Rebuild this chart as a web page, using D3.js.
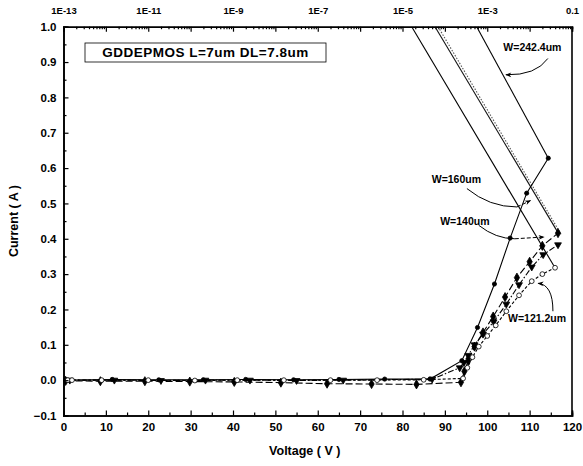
<!DOCTYPE html>
<html><head><meta charset="utf-8">
<script src="https://cdn.jsdelivr.net/npm/d3@7"></script>
<style>
body{margin:0;background:#fff;}
svg{font-family:"Liberation Sans",Arial,sans-serif;font-weight:bold;}
</style></head>
<body><svg id="c" width="583" height="466"></svg>
<script>
// ---- data ----
const xTicks = [0,10,20,30,40,50,60,70,80,90,100,110,120];
const yTicks = [-0.1,0.0,0.1,0.2,0.3,0.4,0.5,0.6,0.7,0.8,0.9,1.0];
const topTicks = [1e-13,1e-11,1e-9,1e-7,1e-5,1e-3,0.1];
const topTickLabels = ["1E-13","1E-11","1E-9","1E-7","1E-5","1E-3","0.1"];

// linear I-V curves (bottom axis: Voltage, left axis: Current)
const w242V = [0.3,1,11.5,22.5,33,43,54.3,65,75.8,86.5,94,97.7,101.7,105.4,109.3,114.4];
const w242I = [0,0,0.002,0.001,0.001,0.002,0.001,0.002,0.003,0.003,0.055,0.149,0.272,0.402,0.529,0.628];
const w160V = [0.5,8.7,19.2,29.8,40.3,51.3,62.2,72.7,83.3,93.8,94.6,95.5,97,99,101.4,104.2,107,110,113,116.7];
const w160I = [-0.002,-0.003,-0.003,-0.004,-0.005,-0.007,-0.01,-0.011,-0.012,-0.006,0.025,0.055,0.095,0.135,0.18,0.235,0.29,0.335,0.38,0.416];
const w140V = [1.5,12,23,33.5,44,55,66,87,93.5,94.5,95.5,97,99,101.5,104.5,107.5,110.5,113.2,116.7];
const w140I = [0,0,-0.001,0,0,-0.001,0,0.003,0.035,0.05,0.07,0.1,0.13,0.165,0.215,0.27,0.32,0.355,0.383];
const w121V = [1,2,9,20,31,41,52,63,74,85,94.3,95.3,96.5,98,100,102,104.5,107.5,110.5,113,116];
const w121I = [0,0,0,0,-0.001,0,0,0,0,0.001,0.005,0.035,0.065,0.095,0.125,0.155,0.195,0.24,0.28,0.3,0.318];

// log-scale lines (top axis: current, log; left axis)
const logStartX = [1.65e-5, 5.85e-5, 6.9e-5, 5.64e-4];
const logStartI = [1.0, 1.0, 1.0, 1.0];
const logEndX = [0.0397, 0.0475, 0.055, 0.0276];
const logEndI = [0.318, 0.416, 0.413, 0.628];

// annotations
const annLabels = ["W=242.4um","W=160um","W=140um","W=121.2um"];
const annLabelV = [103.8, 86.9, 88.9, 104.9];
const annLabelI = [0.94, 0.566, 0.447, 0.172];

// ---- drawing ----
const svg = d3.select("#c");
const L=63.5, R=572, T=26.7, B=415.5;
const x = d3.scaleLinear().domain([0,120]).range([L,R]);
const y = d3.scaleLinear().domain([-0.1,1.0]).range([B,T]);
const xt = d3.scaleLog().domain([1e-13,0.1]).range([L,R]);

const defs = svg.append("defs");
defs.append("clipPath").attr("id","clip").append("rect")
  .attr("x",L).attr("y",T).attr("width",R-L).attr("height",B-T);
defs.append("marker").attr("id","ah").attr("viewBox","0 0 10 10")
  .attr("refX",9).attr("refY",5).attr("markerWidth",7).attr("markerHeight",6)
  .attr("orient","auto").append("path").attr("d","M0,1 L10,5 L0,9 L3,5 Z").attr("fill","#000");

const g = svg.append("g").attr("clip-path","url(#clip)");
const line = d3.line().x(d=>x(d[0])).y(d=>y(d[1]));
const lineT = d3.line().x(d=>xt(d[0])).y(d=>y(d[1]));

// log lines
const logStyles = [
  {dash:null, w:1.1, c:"#000"},
  {dash:null, w:1.1, c:"#111"},
  {dash:"1.5,1.5", w:1.1, c:"#555"},
  {dash:null, w:1.1, c:"#000"}
];
logStartX.forEach((sx,i)=>{
  g.append("path").datum([[sx,logStartI[i]],[logEndX[i],logEndI[i]]])
   .attr("d",lineT).attr("fill","none").attr("stroke",logStyles[i].c)
   .attr("stroke-width",logStyles[i].w).attr("stroke-dasharray",logStyles[i].dash);
});

const series = [
  {V:w242V,I:w242I,dash:null,sym:d3.symbolCircle,size:14,fill:"#000"},
  {V:w160V,I:w160I,dash:"7,3",sym:d3.symbolDiamond,size:24,fill:"#000"},
  {V:w140V,I:w140I,dash:"6,2,1.5,2",sym:d3.symbolTriangle,size:20,fill:"#000",rot:180},
  {V:w121V,I:w121I,dash:"3,2",sym:d3.symbolCircle,size:18,fill:"#fff"}
];
series.forEach(s=>{
  const pts = s.V.map((v,i)=>[v,s.I[i]]);
  g.append("path").datum(pts).attr("d",line).attr("fill","none")
   .attr("stroke","#000").attr("stroke-width",1.1).attr("stroke-dasharray",s.dash);
  g.selectAll(null).data(pts).enter().append("path")
   .attr("d",d3.symbol().type(s.sym).size(s.size))
   .attr("transform",d=>`translate(${x(d[0])},${y(d[1])})`+(s.rot?` rotate(${s.rot})`:""))
   .attr("fill",s.fill).attr("stroke","#000").attr("stroke-width",0.8);
});

// annotations
annLabels.forEach((t,i)=>{
  svg.append("text").attr("x",x(annLabelV[i])).attr("y",y(annLabelI[i]))
    .attr("font-size",10.5).attr("dominant-baseline","middle").text(t);
});
const arrows = [
  [[114.3,0.91],[111.5,0.862],[104.4,0.864]],
  [[95.2,0.542],[100.5,0.49],[107,0.49]],
  [[98,0.438],[102,0.40],[106.5,0.40]],
  [[115.5,0.195],[115.5,0.27],[112,0.274]]
];
const arrowTails = [null,[[107,0.49],[110.2,0.508]],[[106.5,0.40],[113.4,0.405]],null];
arrows.forEach((a,i)=>{
  const p = `M${x(a[0][0])},${y(a[0][1])} Q${x(a[1][0])},${y(a[1][1])} ${x(a[2][0])},${y(a[2][1])}`;
  const path = svg.append("path").attr("d",p).attr("fill","none").attr("stroke","#000").attr("stroke-width",1);
  if(!arrowTails[i]) path.attr("marker-end","url(#ah)");
  else {
    svg.append("path").datum(arrowTails[i]).attr("d",line).attr("fill","none")
      .attr("stroke","#000").attr("stroke-width",1).attr("stroke-dasharray","4,2")
      .attr("marker-end","url(#ah)");
  }
});

// legend/title box
svg.append("rect").attr("x",85).attr("y",43).attr("width",241).attr("height",19)
  .attr("fill","none").attr("stroke","#000").attr("stroke-width",0.8);
svg.append("text").attr("x",205.5).attr("y",53).attr("text-anchor","middle")
  .attr("dominant-baseline","middle").attr("font-size",13.5).attr("letter-spacing",0.5)
  .text("GDDEPMOS L=7um DL=7.8um");

// axes
const ax = svg.append("g");
ax.append("g").attr("transform",`translate(0,${B})`)
  .call(d3.axisBottom(x).tickValues(xTicks).tickSize(-5).tickPadding(7).tickFormat(d3.format("d")))
  .call(s=>s.selectAll("text").attr("font-size",11.5));
ax.append("g").attr("transform",`translate(0,${B})`)
  .call(d3.axisBottom(x).tickValues(d3.range(5,120,10)).tickSize(-3).tickFormat(""));
ax.append("g").attr("transform",`translate(${L},0)`)
  .call(d3.axisLeft(y).tickValues(yTicks).tickSize(-5).tickPadding(7).tickFormat(d3.format(".1f")))
  .call(s=>s.selectAll("text").attr("font-size",11.5));
ax.append("g").attr("transform",`translate(${L},0)`)
  .call(d3.axisLeft(y).tickValues(d3.range(-0.05,1.0,0.1)).tickSize(-3).tickFormat(""));
const decades = d3.range(-13,0).map(e=>Math.pow(10,e));
const minors = [];
decades.forEach(d=>{ for(let k=2;k<=9;k++) minors.push(d*k); });
ax.append("g").attr("transform",`translate(0,${T})`)
  .call(d3.axisTop(xt).tickValues(decades).tickSize(-5).tickFormat(""));
ax.append("g").attr("transform",`translate(0,${T})`)
  .call(d3.axisTop(xt).tickValues(minors).tickSize(-2.5).tickFormat(""));
ax.append("g").attr("transform",`translate(0,${T})`)
  .call(d3.axisTop(xt).tickValues(topTicks).tickSize(0).tickPadding(13)
    .tickFormat((d,i)=>topTickLabels[i]))
  .call(s=>s.selectAll("text").attr("font-size",9.5))
  .call(s=>s.select(".domain").remove());
ax.selectAll(".domain").attr("stroke-width",1.6);
ax.selectAll(".tick line").attr("stroke-width",1.2);
ax.selectAll("text").attr("font-family","'Liberation Sans',Arial,sans-serif").attr("font-weight","bold");
svg.append("line").attr("x1",R).attr("x2",R).attr("y1",T).attr("y2",B).attr("stroke","#000").attr("stroke-width",1.6);

svg.append("text").attr("x",x(60)-13).attr("y",452).attr("text-anchor","middle")
  .attr("dominant-baseline","middle").attr("font-size",12.5).text("Voltage ( V )");
svg.append("text").attr("transform",`translate(15,${(T+B)/2}) rotate(-90)`).attr("text-anchor","middle")
  .attr("dominant-baseline","middle").attr("font-size",12.5).text("Current ( A )");
</script></body></html>
